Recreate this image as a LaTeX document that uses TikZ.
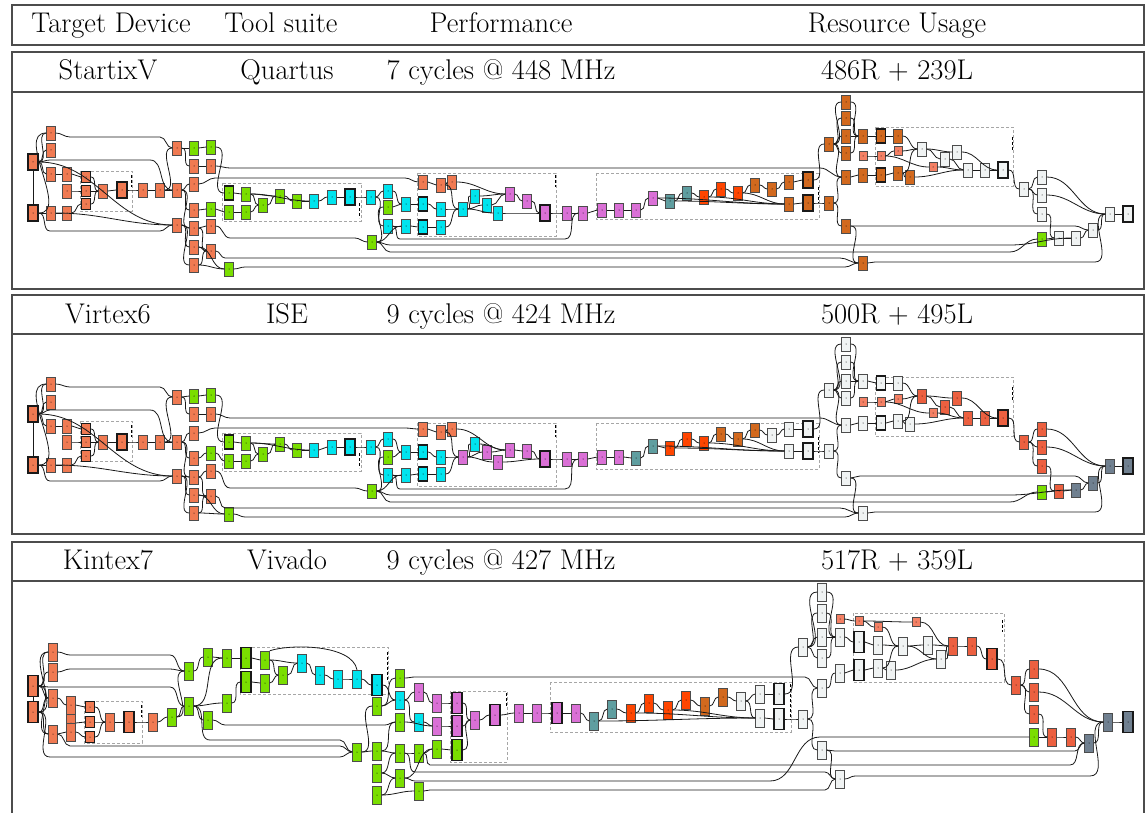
\documentclass[tikz,border=0pt]{standalone}
\usepackage{xcolor}
\usepackage{tikz}
\definecolor{cor}{RGB}{240,122,82}
\definecolor{grn}{RGB}{122,222,0}
\definecolor{cya}{RGB}{0,228,238}
\definecolor{mag}{RGB}{218,112,214}
\definecolor{tea}{RGB}{95,158,160}
\definecolor{ore}{RGB}{255,69,0}
\definecolor{cho}{RGB}{210,105,30}
\definecolor{wht}{RGB}{240,243,243}
\definecolor{slt}{RGB}{112,128,144}
\definecolor{tom}{RGB}{236,96,64}
\definecolor{sal}{RGB}{244,128,100}
\tikzset{op/.style={draw=black!70, line width=0.5pt, minimum width=9pt, minimum height=14pt, inner sep=0pt,
    path picture={\fill[black] (path picture bounding box.center) circle (0.5pt);}}}
\tikzset{opb/.style={op, draw=black!90, line width=1.1pt}}
\tikzset{reg/.style={op, draw=black!90, line width=1.6pt, minimum width=10pt, minimum height=16pt}}
\tikzset{sq/.style={opb, minimum height=11pt}}
\tikzset{lit/.style={op, minimum width=8pt, minimum height=9pt}}
\tikzset{grp/.style={draw=black!35, densely dashed, line width=0.5pt}}
\tikzset{mark3/.style={draw=black, densely dashed, line width=1pt}}
\tikzset{wire/.style={draw=black!90, line width=0.8pt}}
\tikzset{tabline/.style={draw=black!70, line width=1.2pt}}
\tikzset{celltext/.style={font=\fontsize{28.5}{32}\selectfont, anchor=base, inner sep=0pt}}

\begin{document}
\begin{tikzpicture}[x=1pt,y=-1pt]
\useasboundingbox (0,0) rectangle (1145,813);
% table frame
\draw[tabline] (12,5) rectangle (1144,45);
\draw[tabline] (12,52) rectangle (1144,289);
\draw[tabline] (12,92) -- (1144,92);
\draw[tabline] (12,295) rectangle (1144,534);
\draw[tabline] (12,334) -- (1144,334);
\draw[tabline] (12,813) -- (12,542) -- (1144,542) -- (1144,813);
\draw[tabline] (12,581) -- (1144,581);
% texts
\node[celltext] (hdev) at (111,33) {Target Device};
\node[celltext] (htool) at (281,33) {Tool suite};
\node[celltext] (hperf) at (501,33) {Performance};
\node[celltext] (hres) at (897,33) {Resource Usage};
\node[celltext] (dev1) at (108,80) {StartixV};
\node[celltext] (tool1) at (287,80) {Quartus};
\node[celltext] (perf1) at (501,80) {7 cycles @ 448 MHz};
\node[celltext] (res1) at (897,80) {486R + 239L};
\node[celltext] (dev2) at (108,323) {Virtex6};
\node[celltext] (tool2) at (287,323) {ISE};
\node[celltext] (perf2) at (501,323) {9 cycles @ 424 MHz};
\node[celltext] (res2) at (897,323) {500R + 495L};
\node[celltext] (dev3) at (108,569) {Kintex7};
\node[celltext] (tool3) at (287,569) {Vivado};
\node[celltext] (perf3) at (501,569) {9 cycles @ 427 MHz};
\node[celltext] (res3) at (897,569) {517R + 359L};

% groups, rows 1 and 2
\foreach \dy in {0,250} {
  \foreach \xa/\ya/\xb/\yb in {80/171/132/211, 222/183/361/221, 417/173/556/236, 596/173/819/219, 875/127/1013/186}
    \draw[grp] (\xa,\ya+\dy) rectangle (\xb,\yb+\dy);
  \foreach \xm/\ya/\yb in {131/175/187, 359/203/218, 555/175/187, 818/187/203, 1012/137/150}
    \draw[mark3] (\xm,\ya+\dy) -- (\xm,\yb+\dy);
}
% groups, row 3
\foreach \xa/\ya/\xb/\yb in {84/701/142/743, 240/647/388/694, 450/691/507/762, 550/682/791/732, 853/613/1004/682}
  \draw[grp] (\xa,\ya) rectangle (\xb,\yb);
\foreach \xm/\ya/\yb in {141/705/717, 387/652/680, 506/693/707, 790/684/720, 1002/620/632}
  \draw[mark3] (\xm,\ya) -- (\xm,\yb);

% row 1 nodes
\foreach \n/\x/\y/\c in {b1/51/133/cor, b2/51/150/cor, b3/51/174/cor, b4/67/174/cor, b5/67/191/cor, b6/51/213/cor, b7/67/213/cor,
    c4/103/191/cor, c6/143/190/cor, c7/160/190/cor, d1/177/148/cor, d2/177/190/cor, d3/177/225/cor,
    e1/194/166/cor, e2/211/166/cor, e3/194/184/cor, e4/194/210/cor, e5/194/228/cor, e6/211/226/cor, e7/194/247/cor, e8/211/251/cor, e9/194/265/cor,
    g1/194/148/grn, g2/211/147/grn, g3/211/209/grn, g4/229/269/grn, g6/246/194/grn, g7/229/212/grn, g8/246/212/grn, g9/263/205/grn,
    g10/280/196/grn, g11/297/201/grn, g12/372/242/grn, gr/388/207/grn,
    y1/314/201/cya, y2/332/197/cya, y4/371/197/cya, y5/388/191/cya, y6/388/226/cya, y7/406/204/cya, y8/406/226/cya,
    y10/441/209/cya, y12/441/227/cya, y13/463/209/cya, y14/475/196/cya, y15/487/205/cya, y16/498/213/cya,
    o1/423/182/cor, o2/441/185/cor, o3/452/182/cor,
    m1/510/194/mag, m2/527/201/mag, m4/567/213/mag, m5/583/213/mag, m6/602/210/mag, m7/619/210/mag, m8/636/210/mag, m9/653/198/mag,
    t1/670/201/tea, t2/687/193/tea, r1/704/197/ore, r2/721/189/ore, r3/738/193/ore,
    h1/755/185/cho, h2/772/189/cho, h3/789/182/cho, h5/789/204/cho,
    h7/846/102/cho, h8/846/118/cho, h9/846/136/cho, h10/846/153/cho, h11/829/144/cho, h12/863/136/cho, h14/898/136/cho,
    h15/846/177/cho, h16/863/175/cho, h18/898/173/cho, h19/910/177/cho, h20/829/203/cho, h21/846/226/cho, h22/863/263/cho,
    w1/922/149/wht, w2/945/159/wht, w3/957/152/wht, w4/968/170/wht, w5/985/170/wht, w7/1024/189/wht,
    w8/1042/177/wht, w9/1042/195/wht, w10/1042/214/wht, w11/1110/214/wht, w13/1093/230/wht, w14/1076/238/wht, w15/1059/238/wht,
    g13/1042/239/grn}
  \node[op, fill=\c] (r1\n) at (\x,\y) {};
\foreach \n/\x/\y/\c in {a1/33/162/cor, a2/33/213/cor, c5/122/190/cor, y3/350/197/cya, m3/545/213/mag, h4/808/180/cho, h6/808/203/cho, w6/1003/170/wht, w12/1128/214/wht}
  \node[reg, fill=\c] (r1\n) at (\x,\y) {};
\foreach \n/\x/\y/\c in {g5/229/193/grn, y9/423/204/cya, y11/423/227/cya, h13/881/136/cho, h17/881/175/cho}
  \node[opb, fill=\c] (r1\n) at (\x,\y) {};
\foreach \n/\x/\y/\c in {c1/86/177/cor, c2/86/191/cor, c3/86/204/cor}
  \node[sq, fill=\c] (r1\n) at (\x,\y) {};
\foreach \n/\x/\y/\c in {s4/863/156/sal, s5/881/156/sal, s6/898/151/sal, s7/933/167/sal}
  \node[lit, fill=\c] (r1\n) at (\x,\y) {};

% row 2 nodes
\foreach \n/\x/\y/\c in {b1/51/384/cor, b2/51/402/cor, b3/51/426/cor, b4/67/426/cor, b5/67/442/cor, b6/51/465/cor, b7/67/465/cor,
    c4/103/442/cor, c6/143/442/cor, c7/160/442/cor, d1/177/397/cor, d2/177/442/cor, d3/177/476/cor,
    e1/194/414/cor, e2/211/414/cor, e3/194/433/cor, e4/194/458/cor, e5/194/477/cor, e6/211/471/cor, e7/194/495/cor, e8/211/496/cor, e9/194/513/cor,
    g1/194/396/grn, g2/211/395/grn, g3/211/453/grn, g4/229/514/grn, g6/246/443/grn, g7/229/461/grn, g8/246/461/grn, g9/263/454/grn,
    g10/280/444/grn, g11/297/450/grn, g12/372/491/grn, gr/388/457/grn,
    y1/314/450/cya, y2/332/447/cya, y4/371/447/cya, y5/388/439/cya, y6/388/475/cya, y7/406/452/cya, y8/406/475/cya,
    y10/441/457/cya, y12/441/474/cya, y13/463/457/mag, y14/475/444/cya, y15/487/452/mag, y16/498/462/mag,
    o1/423/429/cor, o2/441/432/cor, o3/452/429/cor,
    m1/510/450/mag, m2/527/451/mag, m4/567/459/mag, m5/583/459/mag, m6/602/457/mag, m7/619/457/mag, m8/636/458/tea, m9/653/446/tea,
    t1/670/448/ore, t2/687/439/ore, r1/704/443/ore, r2/721/434/cho, r3/738/439/cho,
    h1/755/430/cho, h2/772/435/wht, h3/789/429/wht, h5/789/451/wht,
    h7/846/344/wht, h8/846/362/wht, h9/846/381/wht, h10/846/398/wht, h11/829/390/wht, h12/863/381/wht, h14/898/383/wht,
    h15/846/425/wht, h16/863/423/wht, h18/898/421/wht, h19/910/424/wht, h20/829/451/wht, h21/846/478/wht, h22/863/513/wht,
    w1/922/396/tom, w2/945/407/tom, w3/957/398/tom, w4/968/418/tom, w5/985/418/tom, w7/1024/442/tom,
    w8/1042/429/tom, w9/1042/447/tom, w10/1042/466/tom, w11/1110/466/slt, w13/1093/483/slt, w14/1076/490/slt, w15/1059/491/tom,
    g13/1042/492/grn}
  \node[op, fill=\c] (r2\n) at (\x,\y) {};
\foreach \n/\x/\y/\c in {a1/33/414/cor, a2/33/465/cor, c5/122/442/cor, y3/350/447/cya, m3/545/459/mag, h4/808/429/wht, h6/808/451/wht, w6/1003/418/tom, w12/1128/466/slt}
  \node[reg, fill=\c] (r2\n) at (\x,\y) {};
\foreach \n/\x/\y/\c in {g5/229/442/grn, y9/423/452/cya, y11/423/474/cya, h13/881/383/wht, h17/881/423/wht}
  \node[opb, fill=\c] (r2\n) at (\x,\y) {};
\foreach \n/\x/\y/\c in {c1/86/429/cor, c2/86/442/cor, c3/86/456/cor}
  \node[sq, fill=\c] (r2\n) at (\x,\y) {};
\foreach \n/\x/\y/\c in {s4/863/402/sal, s5/881/402/sal, s6/898/399/sal, s7/933/413/sal}
  \node[lit, fill=\c] (r2\n) at (\x,\y) {};

% edges, rows 1 and 2
\foreach \r/\dy in {r1/0, r2/250} {
  \draw[wire] (\r a1.south) -- (\r a2.north);
  \foreach \a/\b in {a1/b1, a1/b2, a1/b3, a2/b6, a2/b1, b3/b4, b4/c1, b5/c2, b6/b7, b7/c3, c1/c4, c2/c4, c3/c4, c4/c5, c5/c6, c6/c7,
      c7/d2, c7/d1, a1/d3, b6/d3, d1/g1, g1/g2, d1/e1, e1/e2, d2/e3, d2/e4, d2/e5, d3/e5, d3/e7, d3/e9, e4/g3, e5/e6, e7/e8, e7/g4,
      e9/e8, e5/e8, e9/g4, g2/g5, g3/g7, g5/g6, g7/g8, g6/g9, g6/g10, g8/g9, g9/g10, g10/g11, g11/y1, g6/y1, y1/y2, y2/y3, y3/y4,
      y4/y5, y4/y6, y5/y7, gr/y7, y6/y8, y7/y9, y8/y11, y9/y10, y11/y12, y10/y13, y12/y13, y13/y14, y13/y15, y13/y16, y14/m1,
      y15/m1, y16/m3, o1/o2, o2/o3, o3/m1, o2/y13, m1/m2, m2/m3, m3/m4, m4/m5, m5/m6, m6/m7, m7/m8, m8/m9, m9/t1, t1/t2, t2/r1,
      r1/r2, r2/r3, r3/h1, h1/h2, h2/h3, h3/h4, t1/h5, m9/h5, r1/h5, r3/h5, h5/h6, h4/h11, h6/h20, h11/h7, h11/h8, h11/h9, h11/h10,
      h7/h12, h8/h12, h9/h12, h10/h12, h12/h13, h13/h14, h14/w1, s4/s5, s5/s6, s6/w1, s5/s7, s7/w4, h11/h15, h15/h16, h16/h17,
      h17/h18, h18/w1, h18/h19, h19/w4, w1/w2, w1/w3, w2/w4, w3/w6, w4/w5, w5/w6, w6/w7, w7/w8, w7/w9, w7/w10, w8/w11, w9/w11,
      w10/w15, g13/w15, w15/w14, w14/w13, w13/w11, w11/w12, h20/h15, h20/h21, h21/h22, g12/gr, g12/y8}
    \draw[wire] (\r\a.east) to[out=0,in=180] (\r\b.west);
  \foreach \a/\b/\xa/\xb/\ly in {b1/d1/70/160/137, a1/d2/50/150/160, a2/d3/50/160/231, e2/h15/230/820/168, e3/o1/215/405/178,
      y6/m5/400/565/239, e6/g12/230/355/238, g12/w14/390/1010/245, g12/g13/390/1010/252, e8/h22/225/840/258,
      g4/h22/245/845/267, h21/w13/860/1075/226, h22/w11/875/1095/262}
    \draw[wire] (\r\a.east) to[out=0,in=180] (\xa,\ly+\dy) -- (\xb,\ly+\dy) to[out=0,in=180] (\r\b.west);
}

% row 3 nodes
\begin{scope}[op/.append style={minimum height=18pt}, reg/.append style={minimum height=21pt}]
\foreach \n/\x/\y/\c in {b1/53/652/cor, b2/53/672/cor, b3/53/698/cor, b4/71/705/cor, b5/71/723/cor, b6/53/734/cor, b7/71/732/cor,
    c4/110/722/cor, c6/153/722/cor, k0/172/717/grn, k1/189/671/grn, k2/189/706/grn, k3/208/657/grn, k4/227/658/grn, k5/227/703/grn,
    k6/208/720/grn, k9/265/660/grn, k10/265/683/grn, k11/283/675/grn, q1/302/663/cya, q2/320/675/cya, q3/338/679/cya, q4/357/679/cya,
    k12/400/678/grn, k13/377/706/grn, k14/357/752/grn, k15/377/751/grn, k16/377/773/grn, k17/377/795/grn, k18/400/722/grn,
    k19/400/753/grn, k20/400/778/grn, k21/419/753/grn, k22/419/791/grn, k23/437/749/grn, q6/400/700/cya, q7/419/722/cya,
    n1/419/692/mag, n2/437/703/mag, n3/437/726/mag, n6/475/720/mag, n8/519/713/mag, n9/537/713/mag, n11/576/713/mag,
    t1/594/721/tea, t2/612/709/tea, r1/631/713/ore, r2/649/703/ore, r3/668/710/ore, r4/686/700/ore, h1/705/706/cho, h2/723/697/cho,
    v1/741/701/wht, v2/760/694/wht, v4/760/718/wht, v6/803/719/wht, v7/803/647/wht, v8/822/592/wht, v9/822/613/wht,
    v10/822/637/wht, v11/822/658/wht, v12/840/637/wht, v14/878/645/wht, v15/903/646/wht, v16/928/645/wht, v17/941/659/wht,
    v18/840/673/wht, v20/878/668/wht, v21/891/670/wht, v22/822/688/wht, v23/822/750/wht, v24/840/779/wht,
    p1/953/646/tom, p2/972/646/tom, p4/1016/685/tom, p5/1034/669/tom, p6/1034/692/tom, p7/1034/714/tom, p8/1052/737/tom,
    p9/1071/737/tom, k25/1034/737/grn, u1/1089/743/slt, u2/1108/722/slt}
  \node[op, fill=\c] (r3\n) at (\x,\y) {};
\foreach \n/\x/\y/\c in {a1/33/686/cor, a2/33/712/cor, c5/129/722/cor, k7/246/658/grn, k8/246/682/grn, q5/377/685/cya,
    k24/457/750/grn, n4/457/703/mag, n5/457/726/mag, n7/495/715/mag, n10/557/713/mag, v3/779/694/wht, v5/779/719/wht,
    v13/859/642/wht, v19/859/670/wht, p3/992/659/tom, u3/1128/722/slt}
  \node[reg, fill=\c] (r3\n) at (\x,\y) {};
\foreach \n/\x/\y/\c in {c1/90/707/cor, c2/90/722/cor, c3/90/737/cor}
  \node[sq, fill=\c] (r3\n) at (\x,\y) {};
\foreach \n/\x/\y/\c in {s1/840/619/sal, s2/859/621/sal, s3/878/627/sal, s4/916/622/sal}
  \node[lit, fill=\c] (r3\n) at (\x,\y) {};
\end{scope}

% edges, row 3
\draw[wire] (r3a1.south) -- (r3a2.north);
\foreach \a/\b in {a1/b1, a1/b2, a1/b3, a1/b6, a2/b3, a2/b6, a2/b1, b3/b4, b4/c1, b5/c2, b6/b7, b7/c3, c1/c4, c2/c4, c3/c4,
    c4/c5, c5/c6, c6/k0, k0/k1, k0/k2, k1/k3, k3/k4, k4/k7, k2/k4, k2/k5, k2/k6, k5/k8, k7/k9, k8/k10, k9/k11, k10/k11, k9/q1,
    k11/q1, q1/q2, q2/q3, q3/q4, q4/q5, q5/q6, k13/q6, q6/n1, q6/q7, n1/n2, q7/n3, k18/n3, k23/k24, n2/n4, n3/n5, n4/n6, n5/n6,
    k24/n6, n6/n7, n7/n8, n8/n9, n9/n10, n10/n11, n11/t1, t1/t2, t2/r1, r1/r2, r2/r3, r3/r4, r4/h1, h1/h2, h2/v1, v1/v2, v2/v3,
    v1/v4, t1/v4, r1/v4, r3/v4, v4/v5, v5/v6, v3/v7, v6/v22, v6/v23, v7/v8, v7/v9, v7/v10, v7/v11, v8/v12, v9/v12, v10/v12,
    v11/v12, v12/v13, v13/v14, v14/v15, v22/v18, v18/v19, v19/v20, v20/v21, v20/v15, v21/v17, s1/s2, s2/s3, s3/v15, s2/s4,
    s4/p1, v15/v16, v16/p1, v15/v17, v17/p1, p1/p2, p2/p3, p3/p4, p4/p5, p4/p6, p4/p7, p5/u2, p6/u2, p7/p8, k25/p8, p8/p9,
    p9/u1, u1/u2, u2/u3, v23/v24, k14/k13, k13/k12, k14/k15, k15/k19, k15/k18, k16/k19, k16/k20, k17/k20, k17/k22, k19/k21,
    k21/k23, k20/k23}
  \draw[wire] (r3\a.east) to[out=0,in=180] (r3\b.west);
\draw[wire] (r3k9.north east) .. controls (290,644) and (352,644) .. (r3q4.north);
\foreach \a/\b/\xa/\xb/\ly in {b1/k1/70/170/655, b2/k1/70/170/669, a1/k2/50/170/687, k6/k18/225/385/725, k2/k14/210/340/740,
    b6/k14/70/340/746, a2/k14/50/340/757, k12/v22/415/805/677, k21/u1/430/1070/765, k19/v24/415/825/772,
    k22/v24/430/825/790, v23/u1/835/1075/751, v24/u2/855/1090/776}
  \draw[wire] (r3\a.east) to[out=0,in=180] (\xa,\ly) -- (\xb,\ly) to[out=0,in=180] (r3\b.west);
\draw[wire] (r3k20.east) to[out=0,in=180] (415,781) -- (770,781) to[out=0,in=180] (820,737) -- (r3k25.west);
\end{tikzpicture}
\end{document}
